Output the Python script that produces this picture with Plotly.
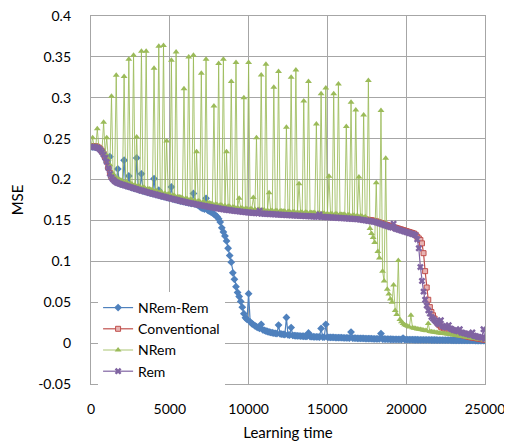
import plotly.graph_objects as go

learning_time = list(range(0, 25001, 100))

nrem_rem = [0.2400,
    0.2400, 0.2398, 0.2395, 0.2390, 0.2378, 0.2360, 0.2335, 0.2305, 0.2265, 0.2215,
    0.2140, 0.2280, 0.2025, 0.2000, 0.1980, 0.1967, 0.2130, 0.1950, 0.1943, 0.1937,
    0.2236, 0.1925, 0.1919, 0.2045, 0.1907, 0.1901, 0.1895, 0.1889, 0.2265, 0.1877,
    0.1871, 0.2070, 0.1860, 0.1855, 0.1849, 0.1844, 0.1838, 0.1833, 0.1827, 0.2010,
    0.1817, 0.1812, 0.1870, 0.1802, 0.1797, 0.1792, 0.1787, 0.1782, 0.1777, 0.1772,
    0.1910, 0.1762, 0.1758, 0.1753, 0.1748, 0.1743, 0.1738, 0.1734, 0.1729, 0.1724,
    0.1720, 0.1716, 0.1712, 0.1708, 0.1830, 0.1700, 0.1696, 0.1685, 0.1670, 0.1655,
    0.1648, 0.1640, 0.1770, 0.1625, 0.1615, 0.1605, 0.1592, 0.1578, 0.1562, 0.1545,
    0.1520, 0.1480, 0.1410, 0.1360, 0.1310, 0.1250, 0.1160, 0.1070, 0.0990, 0.0860,
    0.0780, 0.0690, 0.0620, 0.0570, 0.0510, 0.0440, 0.0360, 0.0310, 0.0290, 0.0605,
    0.0260, 0.0240, 0.0225, 0.0212, 0.0200, 0.0190, 0.0180, 0.0230, 0.0163, 0.0155,
    0.0148, 0.0142, 0.0136, 0.0131, 0.0127, 0.0123, 0.0120, 0.0117, 0.0220, 0.0112,
    0.0110, 0.0107, 0.0105, 0.0313, 0.0100, 0.0098, 0.0190, 0.0094, 0.0092, 0.0090,
    0.0089, 0.0088, 0.0086, 0.0085, 0.0084, 0.0083, 0.0082, 0.0125, 0.0080, 0.0079,
    0.0078, 0.0077, 0.0077, 0.0076, 0.0075, 0.0180, 0.0074, 0.0073, 0.0230, 0.0072,
    0.0071, 0.0070, 0.0069, 0.0069, 0.0068, 0.0067, 0.0067, 0.0066, 0.0066, 0.0065,
    0.0064, 0.0064, 0.0063, 0.0062, 0.0135, 0.0061, 0.0060, 0.0060, 0.0059, 0.0058,
    0.0058, 0.0057, 0.0057, 0.0056, 0.0056, 0.0055, 0.0055, 0.0054, 0.0053, 0.0053,
    0.0052, 0.0052, 0.0051, 0.0117, 0.0050, 0.0050, 0.0049, 0.0049, 0.0048, 0.0047,
    0.0047, 0.0046, 0.0046, 0.0046, 0.0045, 0.0045, 0.0044, 0.0060, 0.0044, 0.0043,
    0.0043, 0.0042, 0.0042, 0.0042, 0.0041, 0.0041, 0.0041, 0.0040, 0.0040, 0.0040,
    0.0040, 0.0039, 0.0039, 0.0039, 0.0039, 0.0038, 0.0038, 0.0038, 0.0038, 0.0037,
    0.0037, 0.0037, 0.0037, 0.0036, 0.0036, 0.0036, 0.0036, 0.0036, 0.0035, 0.0035,
    0.0035, 0.0035, 0.0035, 0.0034, 0.0034, 0.0034, 0.0034, 0.0034, 0.0033, 0.0033,
    0.0033, 0.0033, 0.0033, 0.0032, 0.0032, 0.0032, 0.0031, 0.0031, 0.0031, 0.0030,
]

conventional = [0.2410,
    0.2410, 0.2409, 0.2406, 0.2401, 0.2389, 0.2372, 0.2347, 0.2316, 0.2277, 0.2227,
    0.2152, 0.2082, 0.2037, 0.2012, 0.1992, 0.1979, 0.1970, 0.1962, 0.1955, 0.1949,
    0.1943, 0.1937, 0.1931, 0.1925, 0.1919, 0.1913, 0.1907, 0.1901, 0.1895, 0.1889,
    0.1883, 0.1878, 0.1872, 0.1867, 0.1861, 0.1856, 0.1850, 0.1845, 0.1839, 0.1834,
    0.1829, 0.1824, 0.1819, 0.1814, 0.1809, 0.1804, 0.1799, 0.1794, 0.1789, 0.1784,
    0.1779, 0.1774, 0.1770, 0.1765, 0.1760, 0.1755, 0.1750, 0.1746, 0.1741, 0.1736,
    0.1732, 0.1728, 0.1724, 0.1720, 0.1716, 0.1712, 0.1708, 0.1704, 0.1700, 0.1696,
    0.1693, 0.1689, 0.1686, 0.1682, 0.1679, 0.1675, 0.1672, 0.1668, 0.1665, 0.1661,
    0.1658, 0.1655, 0.1652, 0.1649, 0.1646, 0.1643, 0.1640, 0.1637, 0.1634, 0.1631,
    0.1629, 0.1627, 0.1625, 0.1622, 0.1620, 0.1618, 0.1616, 0.1613, 0.1611, 0.1609,
    0.1607, 0.1606, 0.1604, 0.1603, 0.1601, 0.1600, 0.1598, 0.1597, 0.1595, 0.1594,
    0.1593, 0.1592, 0.1591, 0.1590, 0.1589, 0.1587, 0.1586, 0.1585, 0.1584, 0.1582,
    0.1581, 0.1580, 0.1579, 0.1578, 0.1577, 0.1576, 0.1575, 0.1574, 0.1573, 0.1572,
    0.1571, 0.1570, 0.1569, 0.1568, 0.1567, 0.1566, 0.1565, 0.1564, 0.1563, 0.1562,
    0.1561, 0.1560, 0.1559, 0.1558, 0.1557, 0.1556, 0.1555, 0.1554, 0.1553, 0.1552,
    0.1551, 0.1550, 0.1548, 0.1547, 0.1546, 0.1545, 0.1544, 0.1542, 0.1541, 0.1540,
    0.1539, 0.1537, 0.1536, 0.1534, 0.1533, 0.1531, 0.1530, 0.1528, 0.1527, 0.1525,
    0.1522, 0.1519, 0.1516, 0.1513, 0.1510, 0.1507, 0.1504, 0.1501, 0.1498, 0.1494,
    0.1489, 0.1482, 0.1476, 0.1469, 0.1463, 0.1456, 0.1450, 0.1443, 0.1437, 0.1430,
    0.1424, 0.1418, 0.1412, 0.1406, 0.1400, 0.1394, 0.1388, 0.1382, 0.1376, 0.1370,
    0.1364, 0.1358, 0.1352, 0.1346, 0.1339, 0.1325, 0.1300, 0.1280, 0.1260, 0.1220,
    0.1100, 0.0880, 0.0680, 0.0530, 0.0440, 0.0380, 0.0340, 0.0300, 0.0270, 0.0240,
    0.0220, 0.0200, 0.0190, 0.0180, 0.0170, 0.0160, 0.0150, 0.0140, 0.0135, 0.0130,
    0.0120, 0.0115, 0.0110, 0.0105, 0.0100, 0.0095, 0.0090, 0.0085, 0.0080, 0.0075,
    0.0072, 0.0068, 0.0065, 0.0062, 0.0058, 0.0055, 0.0052, 0.0048, 0.0045, 0.0040,
]

nrem = [0.2405,
    0.2510, 0.2403, 0.2400, 0.2620, 0.2390, 0.2380, 0.2365, 0.2700, 0.2320, 0.2510,
    0.2250, 0.2180, 0.3020, 0.2070, 0.2040, 0.3275, 0.2010, 0.2000, 0.1990, 0.1982,
    0.3260, 0.1970, 0.1964, 0.3470, 0.1952, 0.1946, 0.3520, 0.1934, 0.2520, 0.1922,
    0.1916, 0.3570, 0.1905, 0.1900, 0.3570, 0.1889, 0.1883, 0.1878, 0.1872, 0.3360,
    0.1862, 0.1857, 0.3630, 0.1847, 0.1842, 0.3640, 0.1832, 0.2470, 0.1822, 0.1817,
    0.3460, 0.1807, 0.1803, 0.3560, 0.1793, 0.1788, 0.1783, 0.1779, 0.3110, 0.1769,
    0.1765, 0.3500, 0.1757, 0.1753, 0.3520, 0.1745, 0.2340, 0.1737, 0.1733, 0.3300,
    0.1726, 0.1722, 0.3470, 0.1715, 0.1712, 0.1708, 0.1705, 0.2900, 0.1698, 0.1694,
    0.3420, 0.1688, 0.1685, 0.3470, 0.1679, 0.2340, 0.1673, 0.1670, 0.3200, 0.1664,
    0.1662, 0.3430, 0.1658, 0.1770, 0.1653, 0.1651, 0.3000, 0.1646, 0.1644, 0.3430,
    0.1640, 0.1639, 0.1780, 0.1636, 0.2510, 0.1633, 0.1631, 0.3280, 0.1628, 0.1627,
    0.3410, 0.1625, 0.1840, 0.1623, 0.1622, 0.3130, 0.1619, 0.1618, 0.3320, 0.1615,
    0.1614, 0.1613, 0.1612, 0.2640, 0.1610, 0.1609, 0.3250, 0.1607, 0.1606, 0.3340,
    0.1604, 0.1950, 0.1602, 0.1601, 0.2960, 0.1599, 0.1598, 0.3200, 0.1596, 0.1595,
    0.1594, 0.1593, 0.2680, 0.1591, 0.1590, 0.3050, 0.1588, 0.1587, 0.3120, 0.1585,
    0.2040, 0.1583, 0.1581, 0.3050, 0.1579, 0.1578, 0.3170, 0.1575, 0.1574, 0.1573,
    0.1572, 0.2650, 0.1569, 0.1567, 0.2945, 0.1564, 0.1563, 0.2850, 0.1560, 0.2030,
    0.1555, 0.1552, 0.2790, 0.1545, 0.1500, 0.3210, 0.1400, 0.1340, 0.1290, 0.1230,
    0.1960, 0.1120, 0.1040, 0.2845, 0.0880, 0.0760, 0.2260, 0.0660, 0.0600, 0.0540,
    0.0500, 0.0710, 0.0400, 0.0350, 0.1010, 0.0290, 0.0260, 0.0240, 0.0225, 0.0215,
    0.0205, 0.0198, 0.0340, 0.0188, 0.0183, 0.0178, 0.0174, 0.0170, 0.0166, 0.0162,
    0.0158, 0.0154, 0.0150, 0.0240, 0.0143, 0.0140, 0.0137, 0.0134, 0.0131, 0.0128,
    0.0125, 0.0122, 0.0119, 0.0116, 0.0113, 0.0110, 0.0107, 0.0104, 0.0101, 0.0098,
    0.0095, 0.0092, 0.0089, 0.0086, 0.0083, 0.0080, 0.0077, 0.0074, 0.0071, 0.0068,
    0.0065, 0.0062, 0.0059, 0.0056, 0.0053, 0.0050, 0.0047, 0.0044, 0.0041, 0.0038,
]

rem = [0.2400,
    0.2400, 0.2398, 0.2395, 0.2390, 0.2378, 0.2360, 0.2335, 0.2305, 0.2265, 0.2215,
    0.2140, 0.2070, 0.2025, 0.2000, 0.1980, 0.1967, 0.1958, 0.1950, 0.1943, 0.1937,
    0.1931, 0.1925, 0.1919, 0.1913, 0.1907, 0.1901, 0.1895, 0.1889, 0.1883, 0.1877,
    0.1871, 0.1866, 0.1860, 0.1855, 0.1849, 0.1844, 0.1838, 0.1833, 0.1827, 0.1822,
    0.1817, 0.1812, 0.1807, 0.1802, 0.1797, 0.1792, 0.1787, 0.1782, 0.1777, 0.1772,
    0.1767, 0.1762, 0.1758, 0.1753, 0.1748, 0.1743, 0.1738, 0.1734, 0.1729, 0.1724,
    0.1720, 0.1716, 0.1712, 0.1708, 0.1704, 0.1700, 0.1696, 0.1692, 0.1688, 0.1684,
    0.1681, 0.1677, 0.1674, 0.1670, 0.1667, 0.1663, 0.1660, 0.1656, 0.1653, 0.1649,
    0.1646, 0.1643, 0.1640, 0.1637, 0.1634, 0.1631, 0.1628, 0.1625, 0.1622, 0.1619,
    0.1617, 0.1615, 0.1613, 0.1610, 0.1608, 0.1606, 0.1604, 0.1601, 0.1599, 0.1597,
    0.1595, 0.1594, 0.1592, 0.1591, 0.1589, 0.1588, 0.1619, 0.1585, 0.1583, 0.1582,
    0.1581, 0.1580, 0.1579, 0.1578, 0.1577, 0.1575, 0.1574, 0.1573, 0.1572, 0.1570,
    0.1569, 0.1568, 0.1567, 0.1566, 0.1565, 0.1564, 0.1563, 0.1562, 0.1561, 0.1560,
    0.1559, 0.1558, 0.1557, 0.1556, 0.1555, 0.1554, 0.1553, 0.1552, 0.1551, 0.1550,
    0.1549, 0.1548, 0.1547, 0.1546, 0.1574, 0.1544, 0.1543, 0.1542, 0.1541, 0.1540,
    0.1539, 0.1538, 0.1536, 0.1535, 0.1534, 0.1533, 0.1532, 0.1530, 0.1529, 0.1528,
    0.1527, 0.1525, 0.1524, 0.1522, 0.1521, 0.1519, 0.1518, 0.1516, 0.1515, 0.1513,
    0.1510, 0.1507, 0.1504, 0.1501, 0.1498, 0.1495, 0.1492, 0.1489, 0.1486, 0.1482,
    0.1477, 0.1470, 0.1464, 0.1457, 0.1451, 0.1444, 0.1438, 0.1431, 0.1425, 0.1418,
    0.1412, 0.1460, 0.1400, 0.1394, 0.1388, 0.1382, 0.1376, 0.1370, 0.1364, 0.1358,
    0.1352, 0.1346, 0.1340, 0.1334, 0.1327, 0.1318, 0.1270, 0.1160, 0.0930, 0.0760,
    0.0630, 0.0530, 0.0460, 0.0400, 0.0360, 0.0320, 0.0300, 0.0280, 0.0260, 0.0240,
    0.0230, 0.0280, 0.0210, 0.0200, 0.0195, 0.0190, 0.0220, 0.0180, 0.0170, 0.0160,
    0.0155, 0.0150, 0.0145, 0.0170, 0.0130, 0.0125, 0.0120, 0.0115, 0.0110, 0.0105,
    0.0100, 0.0130, 0.0090, 0.0085, 0.0080, 0.0075, 0.0070, 0.0065, 0.0170, 0.0050,
]

series_names = ["NRem-Rem", "Conventional", "NRem", "Rem"]
x_tick_vals = [0, 5000, 10000, 15000, 20000, 25000]
x_tick_text = ["0", "5000", "10000", "15000", "20000", "25000"]
y_tick_vals = [-0.05, 0, 0.05, 0.1, 0.15, 0.2, 0.25, 0.3, 0.35, 0.4]
y_tick_text = ["-0.05", "0", "0.05", "0.1", "0.15", "0.2", "0.25", "0.3", "0.35", "0.4"]

FONT = "Lato, 'Open Sans', sans-serif"

styles = [
    dict(line=dict(color="#4F81BD", width=1.2),
         marker=dict(symbol="diamond", size=6, color="#4F81BD")),
    dict(line=dict(color="#C0504D", width=1.2),
         marker=dict(symbol="square", size=5, color="#E8B4B3",
                     line=dict(color="#C0504D", width=1))),
    dict(line=dict(color="rgba(155,187,89,0.85)", width=1),
         marker=dict(symbol="triangle-up", size=6, color="#9BBB59")),
    dict(line=dict(color="#8064A2", width=1.2),
         marker=dict(symbol="x", size=6, color="#8064A2")),
]

fig = go.Figure()
for name, ys, st in zip(series_names, [nrem_rem, conventional, nrem, rem], styles):
    fig.add_trace(go.Scatter(x=learning_time, y=ys, name=name, mode="lines+markers",
                             line=st["line"], marker=st["marker"]))

axis_common = dict(showgrid=True, gridcolor="#A6A6A6", gridwidth=1.3,
                   showline=True, linecolor="#A6A6A6", linewidth=1.3, mirror=True,
                   zeroline=False, ticks="", automargin=False,
                   ticklabeloverflow="allow",
                   tickfont=dict(family=FONT, size=14, color="#000000"))

fig.update_xaxes(range=[0, 25000], tickvals=x_tick_vals, ticktext=x_tick_text,
                 ticklabelstandoff=12,
                 title=dict(text="Learning time", font=dict(family=FONT, size=15, color="#000"),
                            standoff=12),
                 **axis_common)
fig.update_yaxes(range=[-0.05, 0.4], tickvals=y_tick_vals, ticktext=y_tick_text,
                 ticklabelstandoff=16,
                 title=dict(text="MSE", font=dict(family=FONT, size=15, color="#000"),
                            standoff=13),
                 **axis_common)

fig.update_layout(
    width=504, height=433,
    margin=dict(l=83, r=27, t=8, b=57, autoexpand=False),
    paper_bgcolor="white", plot_bgcolor="white",
    showlegend=True,
    legend=dict(x=0.018, y=0.25, xanchor="left", yanchor="top",
                bgcolor="white", borderwidth=0,
                font=dict(family=FONT, size=14, color="#000"),
                itemwidth=30, tracegroupgap=0),
    font=dict(family=FONT),
)

fig.write_html("out.html")
